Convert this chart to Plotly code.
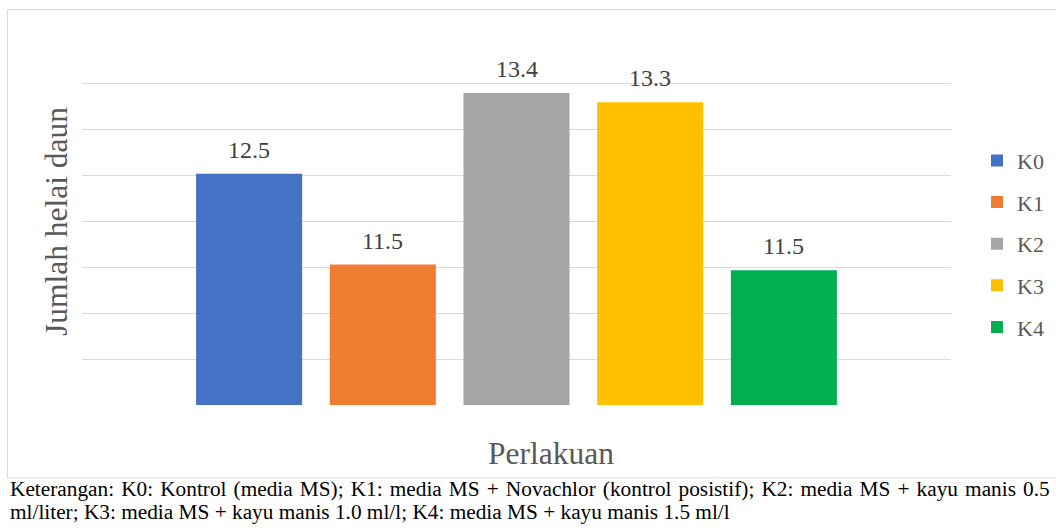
import plotly.graph_objects as go

# ---- data ----
series_names = ["K0", "K1", "K2", "K3", "K4"]
series_values = [12.52, 11.53, 13.40, 13.30, 11.47]
series_colors = ["#4472C4", "#ED7D31", "#A5A5A5", "#FFC000", "#00B050"]
y_title = "Jumlah helai daun"
x_title = "Perlakuan"
caption_line1 = ("Keterangan: K0: Kontrol (media MS); K1: media MS + Novachlor (kontrol posistif); "
                 "K2: media MS + kayu manis 0.5")
caption_line2 = "ml/liter; K3: media MS + kayu manis 1.0 ml/l; K4: media MS + kayu manis 1.5 ml/l"

W, H = 1100, 531
# plot area in page pixels: x 82..951, y 38..405.5
L, T = 82, 38
R = W - 951
B = H - 405.5
pw = W - L - R
ph = H - T - B

def px_x(px):  # page px -> paper
    return (px - L) / pw

def px_y(py):
    return (H - B - py) / ph

FONT = "Liberation Serif"
GRAY = "#595959"

fig = go.Figure()
for name, val, col in zip(series_names, series_values, series_colors):
    fig.add_trace(go.Bar(
        x=[name], y=[val], name=name, marker_color=col,
        marker_line_width=0, legendgroup=name,
    ))
    fig.add_annotation(
        x=name, y=val, xref="x", yref="y", text=f"{val:.1f}",
        showarrow=False, yanchor="bottom", yshift=9,
        font=dict(family=FONT, size=24, color="#404040"),
    )

fig.update_layout(
    width=W, height=H,
    margin=dict(l=L, r=R, t=T, b=B),
    paper_bgcolor="white", plot_bgcolor="white",
    barmode="overlay", bargap=0.207,
    font=dict(family=FONT, color=GRAY),
    showlegend=True,
    legend=dict(
        x=px_x(977), y=px_y(244), xanchor="left", yanchor="middle",
        font=dict(family=FONT, size=22, color=GRAY),
        tracegroupgap=10, bgcolor="rgba(0,0,0,0)",
    ),
    xaxis=dict(
        range=[-1.25, 5.25], showticklabels=False, showgrid=False,
        zeroline=False, showline=False, ticks="",
    ),
    yaxis=dict(
        range=[10, 14], dtick=0.5, tick0=10, showticklabels=False,
        showgrid=True, gridcolor="#D9D9D9", gridwidth=1.3, zeroline=False,
        showline=False, ticks="",
        title=dict(text=y_title, standoff=3,
                   font=dict(family=FONT, size=31.5, color=GRAY)),
    ),
)

# x axis title
fig.add_annotation(
    x=px_x(551), y=px_y(474), xref="paper", yref="paper", text=x_title,
    showarrow=False, xanchor="center", yanchor="bottom",
    font=dict(family=FONT, size=31.5, color=GRAY),
)

# chart border
fig.add_shape(
    type="rect", xref="paper", yref="paper",
    x0=px_x(7.5), x1=px_x(1080), y0=px_y(478.5), y1=px_y(9.5),
    line=dict(color="#D9D9D9", width=1), fillcolor="rgba(0,0,0,0)", layer="below",
)

# caption (first line justified to the full width, as in the reference)
fig.add_annotation(
    x=px_x(8), y=px_y(504), xref="paper", yref="paper",
    text=caption_line1.replace(" ", " \u200A"),
    showarrow=False, xanchor="left", yanchor="bottom",
    font=dict(family=FONT, size=21.3, color="black"),
)
fig.add_annotation(
    x=px_x(8), y=px_y(527), xref="paper", yref="paper", text=caption_line2,
    showarrow=False, xanchor="left", yanchor="bottom",
    font=dict(family=FONT, size=21.3, color="black"),
)

fig.write_html(
    "out.html",
    config={"displayModeBar": False},
    post_script="document.body.style.margin='0';document.body.style.overflow='hidden';",
)
